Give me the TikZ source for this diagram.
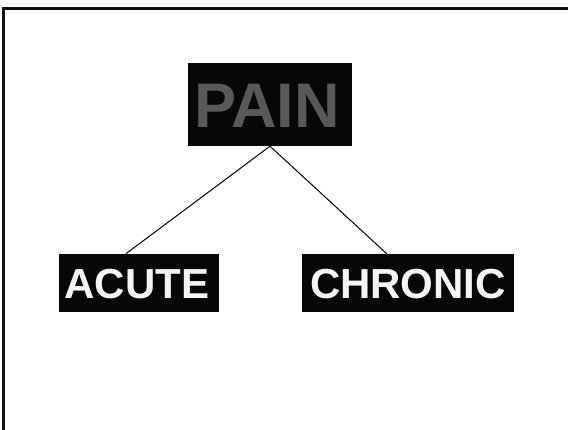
\documentclass[tikz,border=0pt]{standalone}
\usepackage{fontspec}
\setmainfont{Liberation Sans}
\usetikzlibrary{calc}
\definecolor{boxfill}{HTML}{070707}
\definecolor{paingray}{HTML}{595959}
\definecolor{labelwhite}{HTML}{F5F5F5}
\definecolor{framecol}{HTML}{111111}
\tikzset{
  labelbox/.style={fill=boxfill, inner sep=0pt, text depth=0pt, anchor=center, font=\bfseries},
  link/.style={draw=black, line width=1pt},
}
\begin{document}
\begin{tikzpicture}[x=1pt,y=-1pt]
\useasboundingbox (0,0) rectangle (568,430);
\draw[framecol, line width=2.5pt] (3.5,430) -- (3.5,8.5) -- (568,8.5);
\node[labelbox, text=paingray, minimum width=164pt, minimum height=83pt,
      text height=45.1pt, font=\bfseries\fontsize{63}{63}\selectfont]
  (pain) at (270,104.5) {PAIN\hspace*{6pt}};
\node[labelbox, text=labelwhite, minimum width=160pt, minimum height=58pt,
      text height=30.1pt, font=\bfseries\fontsize{42}{42}\selectfont]
  (acute) at (139,283) {ACUTE\hspace*{4pt}};
\node[labelbox, text=labelwhite, minimum width=212pt, minimum height=58pt,
      text height=30.1pt, font=\bfseries\fontsize{42}{42}\selectfont]
  (chronic) at (408,283) {CHRONIC};
\coordinate (acutetop) at ([xshift=67pt]acute.north west);
\coordinate (chronictop) at ([xshift=85pt]chronic.north west);
\draw[link] (pain.south) -- (acutetop);
\draw[link] (pain.south) -- (chronictop);
\end{tikzpicture}
\end{document}
